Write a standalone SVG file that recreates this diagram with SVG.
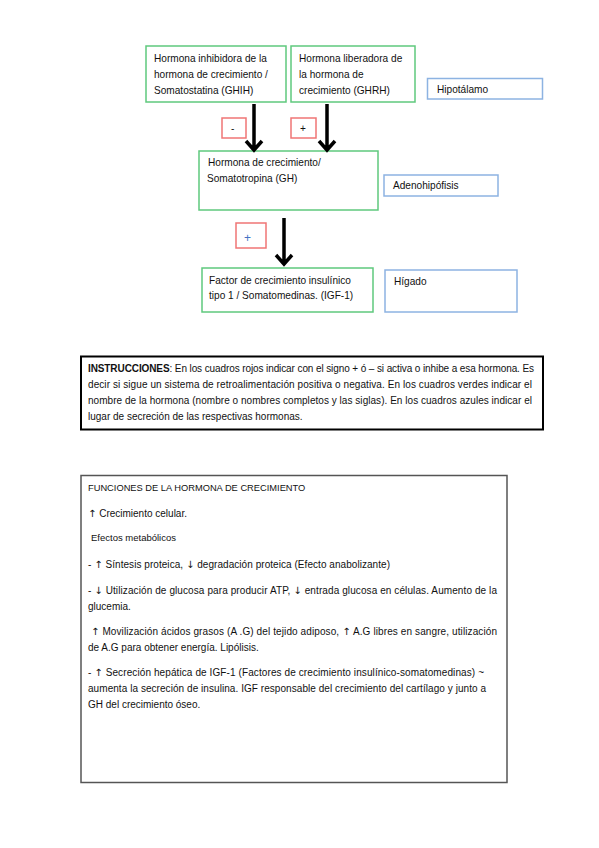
<svg xmlns="http://www.w3.org/2000/svg" width="599" height="848" viewBox="0 0 599 848">
<style>
text{font-family:"Liberation Sans",Arial,sans-serif;fill:#111;}
.t{font-size:10.1px;}
.b{font-size:10px;}
.a{font-family:"DejaVu Sans",sans-serif;font-size:10px;}
.g{fill:#fff;stroke:#5fc97d;stroke-width:1.5;}
.bl{fill:#fff;stroke:#8db3e2;stroke-width:1.5;}
.r{fill:#fff;stroke:#f07575;stroke-width:1.5;}
.arr{fill:none;stroke:#000;stroke-width:3.5;}
</style>
<rect width="599" height="848" fill="#fff"/>
<g id="ghih">
<rect class="g" x="146" y="46" width="140" height="56"/>
<text class="t" x="154" y="62">Hormona inhibidora de la</text>
<text class="t" x="154" y="78">hormona de crecimiento /</text>
<text class="t" x="154" y="93.5">Somatostatina (GHIH)</text>
</g>
<g id="ghrh">
<rect class="g" x="291" y="46" width="124" height="56"/>
<text class="t" x="299" y="62">Hormona liberadora de</text>
<text class="t" x="299" y="78">la hormona de</text>
<text class="t" x="299" y="93.5">crecimiento (GHRH)</text>
</g>
<g id="hipotalamo">
<rect class="bl" x="427.5" y="78.5" width="115" height="20.5"/>
<text class="t" x="437" y="93">Hipotálamo</text>
</g>
<g id="signo-menos">
<rect class="r" x="222" y="118" width="24" height="20"/>
<text class="t" x="231" y="132">-</text>
</g>
<g id="signo-mas">
<rect class="r" x="291" y="118" width="25" height="20"/>
<text class="t" x="300" y="132">+</text>
</g>
<g id="gh">
<rect class="g" x="199" y="151" width="179" height="59"/>
<text class="t" x="208" y="166">Hormona de crecimiento/</text>
<text class="t" x="207" y="182">Somatotropina  (GH)</text>
</g>
<g id="adenohipofisis">
<rect class="bl" x="384" y="175" width="114" height="21"/>
<text class="t" x="393" y="189">Adenohipófisis</text>
</g>
<g id="signo-mas-2">
<rect class="r" x="236" y="223" width="30" height="25"/>
<text x="244" y="242" style="fill:#4472c4;font-size:12px">+</text>
</g>
<g id="igf1">
<rect class="g" x="202" y="268" width="171" height="44"/>
<text class="t" x="209" y="284">Factor de crecimiento insulínico</text>
<text class="t" x="209" y="299">tipo 1 / Somatomedinas. (IGF-1)</text>
</g>
<g id="higado">
<rect class="bl" x="385" y="270" width="132" height="42"/>
<text class="t" x="394" y="285">Hígado</text>
</g>
<g id="connectors">
<path class="arr" d="M254 104V149M246 141L254 150L262 141"/>
<path class="arr" d="M327 104V149M319 141L327 150L335 141"/>
<path class="arr" d="M284 218V263M276 255L284 264L292 255"/>
</g>
<g id="instrucciones">
<rect x="81" y="356.5" width="462" height="73" fill="#fff" stroke="#000" stroke-width="2"/>
<text class="b" x="88" y="372" textLength="446" lengthAdjust="spacing"><tspan font-weight="bold">INSTRUCCIONES</tspan>: En los cuadros rojos indicar con el signo + ó – si activa o inhibe a esa hormona. Es</text>
<text class="b" x="88" y="388" textLength="444" lengthAdjust="spacing">decir si sigue un sistema de retroalimentación positiva o negativa. En los cuadros verdes indicar el</text>
<text class="b" x="88" y="404" textLength="444" lengthAdjust="spacing">nombre de la hormona (nombre o nombres completos y las siglas). En los cuadros azules indicar el</text>
<text class="b" x="88" y="420">lugar de secreción de las respectivas hormonas.</text>
</g>
<g id="funciones">
<rect x="81" y="475.5" width="426" height="307" fill="#fff" stroke="#555" stroke-width="1.5"/>
<text x="88" y="491" style="font-size:9.3px">FUNCIONES DE LA HORMONA DE CRECIMIENTO</text>
<text class="b" x="88" y="517"><tspan class="a">↑</tspan> Crecimiento celular.</text>
<text x="91" y="541" style="font-size:9.5px">Efectos metabólicos</text>
<text class="b" x="88" y="568" textLength="302" lengthAdjust="spacing">- <tspan class="a">↑</tspan> Síntesis proteica, <tspan class="a">↓</tspan> degradación proteica (Efecto anabolizante)</text>
<text class="b" x="88" y="594" textLength="409" lengthAdjust="spacing">- <tspan class="a">↓</tspan> Utilización de glucosa para producir ATP,  <tspan class="a">↓</tspan> entrada glucosa en células. Aumento de la</text>
<text class="b" x="88" y="610">glucemia.</text>
<text class="b" x="91" y="635" textLength="406" lengthAdjust="spacing"><tspan class="a">↑</tspan> Movilización ácidos grasos (A .G) del tejido adiposo, <tspan class="a">↑</tspan> A.G libres en sangre, utilización</text>
<text class="b" x="88" y="651">de A.G para obtener energía. Lipólisis.</text>
<text class="b" x="88" y="676" textLength="396" lengthAdjust="spacing">- <tspan class="a">↑</tspan> Secreción hepática de IGF-1 (Factores de crecimiento insulínico-somatomedinas) ~</text>
<text class="b" x="88" y="692" textLength="398" lengthAdjust="spacing">aumenta la secreción de insulina. IGF responsable del crecimiento del cartílago y junto a</text>
<text class="b" x="88" y="708">GH del crecimiento óseo.</text>
</g>
</svg>
